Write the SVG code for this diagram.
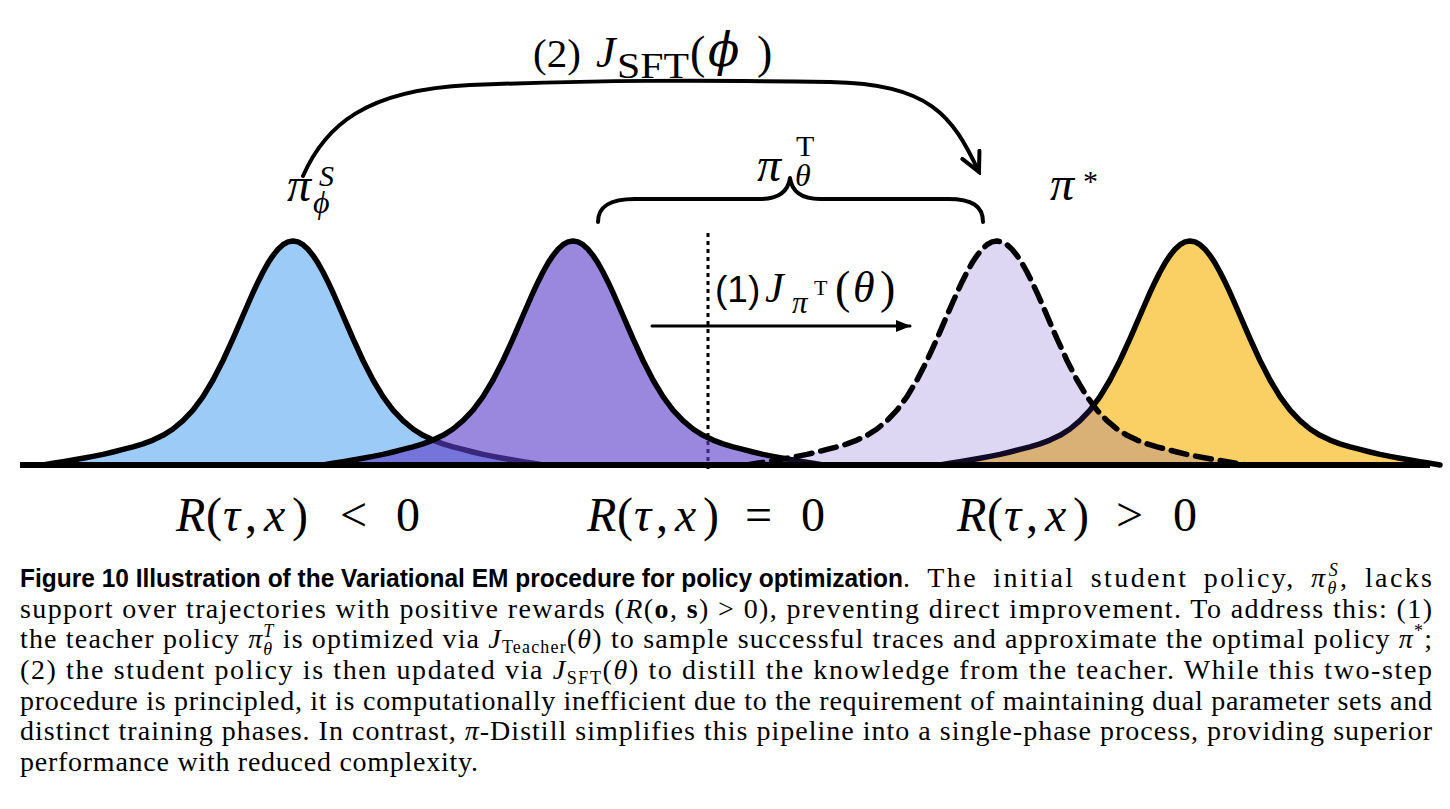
<svg xmlns="http://www.w3.org/2000/svg" xmlns:xlink="http://www.w3.org/1999/xlink" width="1450" height="809" viewBox="0 0 1450 809">
<style>
.bell{stroke:#000;stroke-width:5.5;stroke-linejoin:round;stroke-linecap:round}
.mi{font-family:"Liberation Serif",serif;font-style:italic;fill:#000}
.mu{font-family:"Liberation Serif",serif;font-style:normal;fill:#000}
.sans{font-family:"Liberation Sans",Arial,sans-serif;fill:#000}
.cap{font-family:"Liberation Serif",serif;font-size:28px;fill:#000}
.capb{font-family:"Liberation Sans",Arial,sans-serif;font-weight:bold;font-size:25px;fill:#000}
.i{font-style:italic}
.ss{font-size:18px}
.conn{fill:none;stroke:#000;stroke-linecap:round;stroke-linejoin:round}
</style>
<defs>
<path id="bell" d="M-250,465 L-240,463.3 L-230,461.7 L-220,460 L-210,458.2 L-200,456.4 L-190,454.4 L-180,452 L-170,449.4 L-160,446.9 L-150,443.9 L-140,440.1 L-130,435.3 L-120,429 L-110,420.7 L-100,410.1 L-90,396.6 L-80,380 L-70,360.5 L-60,338.7 L-55,327.2 L-50,315.5 L-45,304 L-40,292.7 L-35,281.9 L-30,272 L-25,263.1 L-20,255.4 L-15,249.3 L-10,244.7 L-5,241.9 L0,241 L5,241.9 L10,244.7 L15,249.3 L20,255.4 L25,263.1 L30,272 L35,281.9 L40,292.7 L45,304 L50,315.5 L55,327.2 L60,338.7 L70,360.5 L80,380 L90,396.6 L100,410.1 L110,420.7 L120,429 L130,435.3 L140,440.1 L150,443.9 L160,446.9 L170,449.4 L180,452 L190,454.4 L200,456.4 L210,458.2 L220,460 L230,461.7 L240,463.3 L250,465"/>
<marker id="chev" viewBox="0 0 24 24" refX="21" refY="12" markerWidth="24" markerHeight="24" markerUnits="userSpaceOnUse" orient="auto">
<path d="M2,2.5 L21,12 L2,21.5" fill="none" stroke="#000" stroke-width="4" stroke-linecap="round" stroke-linejoin="miter"/>
</marker>
<marker id="tri" viewBox="0 0 15 12" refX="14" refY="6" markerWidth="15" markerHeight="12" markerUnits="userSpaceOnUse" orient="auto">
<path d="M0,0 L15,6 L0,12 Z" fill="#000"/>
</marker>
</defs>

<g id="zero-line">
<line x1="708" y1="233" x2="708" y2="471" stroke="#000" stroke-width="3" stroke-dasharray="4 4"/>
</g>

<g id="student">
<use href="#bell" x="293" class="bell" fill="#9DCBF8"/>
</g>
<g id="teacher">
<use href="#bell" x="573" class="bell" fill="#5B3FC9" fill-opacity="0.62"/>
</g>
<g id="optimal">
<use href="#bell" x="1190" class="bell" fill="#FAD064"/>
</g>
<g id="teacher-target">
<use href="#bell" x="997" class="bell" fill="#5537C3" fill-opacity="0.2" stroke-dasharray="16 9"/>
</g>

<g id="axis">
<line x1="20" y1="465" x2="1430" y2="465" stroke="#000" stroke-width="6"/>
</g>

<g id="connectors">
<path class="conn" stroke-width="4" d="M303,176 C325,126 365,90 470,85 C600,80 700,80 830,82 C930,84 952,115 979,172" marker-end="url(#chev)"/>
<line class="conn" stroke-width="3" x1="652" y1="326" x2="910" y2="326" marker-end="url(#tri)"/>
<path class="conn" stroke-width="4" d="M598,222 C598,206 610,199 635,199 L760,199 C778,199 788,192 790,178 C792,192 802,199 820,199 L948,199 C972,199 983,206 983,222"/>
</g>

<g id="labels">
<text class="mu" x="533" y="67" font-size="41">(2)</text>
<text class="mi" x="596" y="67" font-size="44">J</text>
<text class="mu" x="617" y="78" font-size="36" textLength="72" lengthAdjust="spacingAndGlyphs">SFT</text>
<text class="mu" x="690" y="68" font-size="46">(</text>
<text x="708" y="66" font-size="46" style="font-family:'DejaVu Serif',serif;font-style:italic">ϕ</text>
<text class="mu" x="757" y="68" font-size="46">)</text>

<text class="mi" x="287" y="201" font-size="48">π</text>
<text class="mi" x="319" y="186" font-size="30">S</text>
<text class="mi" x="313" y="213" font-size="32">ϕ</text>

<text class="mi" x="757" y="181" font-size="48">π</text>
<text class="mu" x="796" y="156" font-size="30">T</text>
<text class="mi" x="795" y="186" font-size="32">θ</text>

<text class="mi" x="1050" y="200" font-size="48">π</text>
<text class="mu" x="1083" y="191" font-size="30">*</text>

<text class="sans" x="715" y="302" font-size="37">(1)</text>
<text class="mi" x="765" y="302" font-size="42">J</text>
<text class="mi" x="792" y="313" font-size="31">π</text>
<text class="mu" x="814" y="295" font-size="22">T</text>
<text class="mu" x="835" y="303" font-size="46">(</text>
<text class="mi" x="853" y="302" font-size="44">θ</text>
<text class="mu" x="880" y="303" font-size="46">)</text>

<text y="531" font-size="48"><tspan class="mi" x="176">R</tspan><tspan class="mu" x="206">(</tspan><tspan class="mi" x="223">τ</tspan><tspan class="mu" x="245">,</tspan><tspan class="mi" x="264">x</tspan><tspan class="mu" x="292">)</tspan><tspan class="mu" x="340">&lt;</tspan><tspan class="mu" x="396">0</tspan></text>
<text y="531" font-size="48"><tspan class="mi" x="587">R</tspan><tspan class="mu" x="617">(</tspan><tspan class="mi" x="634">τ</tspan><tspan class="mu" x="656">,</tspan><tspan class="mi" x="675">x</tspan><tspan class="mu" x="703">)</tspan><tspan class="mu" x="745">=</tspan><tspan class="mu" x="801">0</tspan></text>
<text y="531" font-size="48"><tspan class="mi" x="957">R</tspan><tspan class="mu" x="987">(</tspan><tspan class="mi" x="1004">τ</tspan><tspan class="mu" x="1026">,</tspan><tspan class="mi" x="1045">x</tspan><tspan class="mu" x="1073">)</tspan><tspan class="mu" x="1116">&gt;</tspan><tspan class="mu" x="1173">0</tspan></text>
</g>

<g id="caption">
<text class="capb" x="20" y="587" textLength="883" lengthAdjust="spacingAndGlyphs">Figure 10  Illustration of the Variational EM procedure for policy optimization</text>
<text class="cap" x="903" y="587" textLength="529" lengthAdjust="spacing" word-spacing="6">. The initial student policy, <tspan class="i">π</tspan><tspan class="i ss" dy="7">θ</tspan><tspan class="i ss" dx="-10" dy="-18">S</tspan><tspan dy="11">, lacks</tspan></text>
<text class="cap" x="20" y="618" textLength="1412" lengthAdjust="spacing">support over trajectories with positive rewards (<tspan class="i">R</tspan>(<tspan font-weight="bold">o</tspan>, <tspan font-weight="bold">s</tspan>) &gt; 0), preventing direct improvement. To address this: (1)</text>
<text class="cap" x="20" y="648" textLength="1412" lengthAdjust="spacing">the teacher policy <tspan class="i">π</tspan><tspan class="i ss" dy="7">θ</tspan><tspan class="i ss" dx="-10" dy="-18">T</tspan><tspan dy="11"> is optimized via </tspan><tspan class="i">J</tspan><tspan class="ss" dy="5">Teacher</tspan><tspan dy="-5">(</tspan><tspan class="i">θ</tspan>) to sample successful traces and approximate the optimal policy <tspan class="i">π</tspan><tspan class="ss" dy="-11">*</tspan><tspan dy="11">;</tspan></text>
<text class="cap" x="20" y="679" textLength="1412" lengthAdjust="spacing">(2) the student policy is then updated via <tspan class="i">J</tspan><tspan class="ss" dy="5">SFT</tspan><tspan dy="-5">(</tspan><tspan class="i">θ</tspan>) to distill the knowledge from the teacher. While this two-step</text>
<text class="cap" x="20" y="710" textLength="1412" lengthAdjust="spacing">procedure is principled, it is computationally inefficient due to the requirement of maintaining dual parameter sets and</text>
<text class="cap" x="20" y="740" textLength="1412" lengthAdjust="spacing">distinct training phases. In contrast, <tspan class="i">π</tspan>-Distill simplifies this pipeline into a single-phase process, providing superior</text>
<text class="cap" x="20" y="771" textLength="458" lengthAdjust="spacing">performance with reduced complexity.</text>
</g>
</svg>
